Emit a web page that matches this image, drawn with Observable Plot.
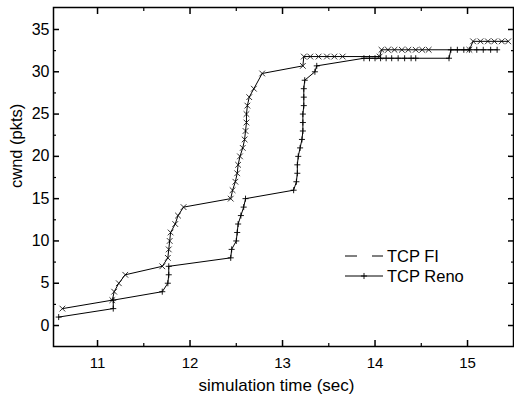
<!DOCTYPE html>
<html><head><meta charset="utf-8">
<script src="https://cdn.jsdelivr.net/npm/d3@7"></script>
<script src="https://cdn.jsdelivr.net/npm/@observablehq/plot@0.6"></script>
<style>
html,body{margin:0;padding:0;background:#fff;}
#chart{width:514px;height:395px;overflow:hidden;}
</style></head><body><div id="chart"></div>
<script>
// TCP FI (x markers)
const fiTime = [10.62, 11.16, 11.18, 11.23, 11.30, 11.70, 11.76, 11.77, 11.78, 11.79, 11.84, 11.87, 11.93,
  12.44, 12.46, 12.49, 12.51, 12.52, 12.54, 12.57, 12.59, 12.60, 12.61, 12.61, 12.62, 12.64, 12.69, 12.78,
  13.22, 13.23, 13.30, 13.39, 13.48, 13.56, 13.65, 14.05,
  14.07, 14.14, 14.21, 14.29, 14.36, 14.44, 14.51, 14.58, 15.02,
  15.06, 15.14, 15.22, 15.29, 15.37, 15.44];
const fiCwnd = [2, 3, 4, 5, 6, 7, 8, 9, 10, 11, 12, 13, 14,
  15, 16, 17, 18, 19, 20, 21, 22, 23, 24, 25, 26, 27, 28, 29.8,
  30.7, 31.8, 31.8, 31.8, 31.8, 31.8, 31.8, 31.8,
  32.6, 32.6, 32.6, 32.6, 32.6, 32.6, 32.6, 32.6, 32.6,
  33.6, 33.6, 33.6, 33.6, 33.6, 33.6];
// TCP Reno (+ markers)
const renoTime = [10.58, 11.17, 11.17, 11.70, 11.76, 11.77, 11.77,
  12.44, 12.45, 12.50, 12.51, 12.52, 12.55, 12.58, 12.60,
  13.12, 13.15, 13.16, 13.16, 13.17, 13.19, 13.21, 13.22, 13.22, 13.22, 13.23, 13.23, 13.23, 13.24, 13.35, 13.37,
  13.88, 13.94, 14.00, 14.06, 14.12, 14.18, 14.25, 14.32, 14.39, 14.44, 14.80,
  14.82, 14.89, 14.96, 15.02, 15.10, 15.17, 15.25, 15.32];
const renoCwnd = [1, 2, 3, 4, 5, 6, 7,
  8, 9, 10, 11, 12, 13, 14, 15,
  16, 17, 18, 19, 20, 21, 22, 23, 24, 25, 26, 27, 28, 29, 30, 30.7,
  31.6, 31.6, 31.6, 31.6, 31.6, 31.6, 31.6, 31.6, 31.6, 31.6, 31.6,
  32.6, 32.6, 32.6, 32.6, 32.6, 32.6, 32.6, 32.6];

const xTicks = [11, 12, 13, 14, 15];
const xMinorTicks = [11.5, 12.5, 13.5, 14.5];
const yTicks = [0, 5, 10, 15, 20, 25, 30, 35];
const yMinorTicks = [2.5, 7.5, 12.5, 17.5, 22.5, 27.5, 32.5];
const seriesNames = ["TCP FI", "TCP Reno"];
const xTitle = "simulation time (sec)";
const yTitle = "cwnd (pkts)";

const fi = fiTime.map((t, i) => ({t, c: fiCwnd[i]}));
const reno = renoTime.map((t, i) => ({t, c: renoCwnd[i]}));
const font = "'Liberation Sans', Arial, Helvetica, sans-serif";
const blank = () => "";

const chart = Plot.plot({
  width: 514, height: 395,
  marginLeft: 53, marginRight: 1, marginTop: 7, marginBottom: 49,
  style: {fontFamily: font, fontSize: "15px", color: "#000", background: "#fff"},
  x: {domain: [10.524, 15.497]},
  y: {domain: [-2.48, 37.6]},
  marks: [
    Plot.line(reno, {x: "t", y: "c", stroke: "#000", strokeWidth: 1}),
    Plot.dot(reno, {x: "t", y: "c", symbol: "plus", r: 2.1, stroke: "#000", strokeWidth: 0.9}),
    Plot.line(fi, {x: "t", y: "c", stroke: "#000", strokeWidth: 1}),
    Plot.dot(fi, {x: "t", y: "c", symbol: "times", r: 2.7, stroke: "#000", strokeWidth: 0.8}),
    Plot.axisX(xTicks, {anchor: "bottom", tickSize: -6, tickPadding: 17, fontSize: 15, label: null, strokeWidth: 1.5}),
    Plot.axisX(xMinorTicks, {anchor: "bottom", tickSize: -3, tickFormat: blank, label: null, strokeWidth: 1.2}),
    Plot.axisX(xTicks, {anchor: "top", tickSize: -6, tickFormat: blank, label: null, strokeWidth: 1.5}),
    Plot.axisX(xMinorTicks, {anchor: "top", tickSize: -3, tickFormat: blank, label: null, strokeWidth: 1.2}),
    Plot.axisY(yTicks, {anchor: "left", tickSize: -6, tickPadding: 10, fontSize: 16, label: null, strokeWidth: 1.5}),
    Plot.axisY(yMinorTicks, {anchor: "left", tickSize: -3, tickFormat: blank, label: null, strokeWidth: 1.2}),
    Plot.axisY(yTicks, {anchor: "right", tickSize: -6, tickFormat: blank, label: null, strokeWidth: 1.5}),
    Plot.axisY(yMinorTicks, {anchor: "right", tickSize: -3, tickFormat: blank, label: null, strokeWidth: 1.2}),
    Plot.frame({stroke: "#000", strokeWidth: 1.5}),
    Plot.text([xTitle], {frameAnchor: "bottom", dy: 39, dx: -7, fontSize: 17, lineAnchor: "middle"}),
    Plot.text([yTitle], {frameAnchor: "left", rotate: -90, dx: -37, dy: 11, fontSize: 16.5})
  ]
});
document.getElementById("chart").appendChild(chart);

// legend inside the plot area
const svg = d3.select(chart);
const lg = svg.append("g").attr("font-family", font).attr("font-size", 16.5)
  .attr("fill", "#000").attr("text-anchor", "start");
const legendRows = [
  {name: seriesNames[0], y: 256, dash: "12 15", plus: false},
  {name: seriesNames[1], y: 276, dash: null, plus: true}
];
legendRows.forEach(r => {
  lg.append("line").attr("x1", 345).attr("x2", 383).attr("y1", r.y).attr("y2", r.y)
    .attr("stroke", "#000").attr("stroke-width", 1).attr("stroke-dasharray", r.dash);
  if (r.plus) {
    lg.append("path").attr("d", d3.symbol(d3.symbolPlus, 14)()).attr("transform", `translate(364,${r.y})`)
      .attr("fill", "none").attr("stroke", "#000").attr("stroke-width", 0.9);
  }
  lg.append("text").attr("x", 387).attr("y", r.y).attr("dy", "0.36em").text(r.name);
});
</script></body></html>
